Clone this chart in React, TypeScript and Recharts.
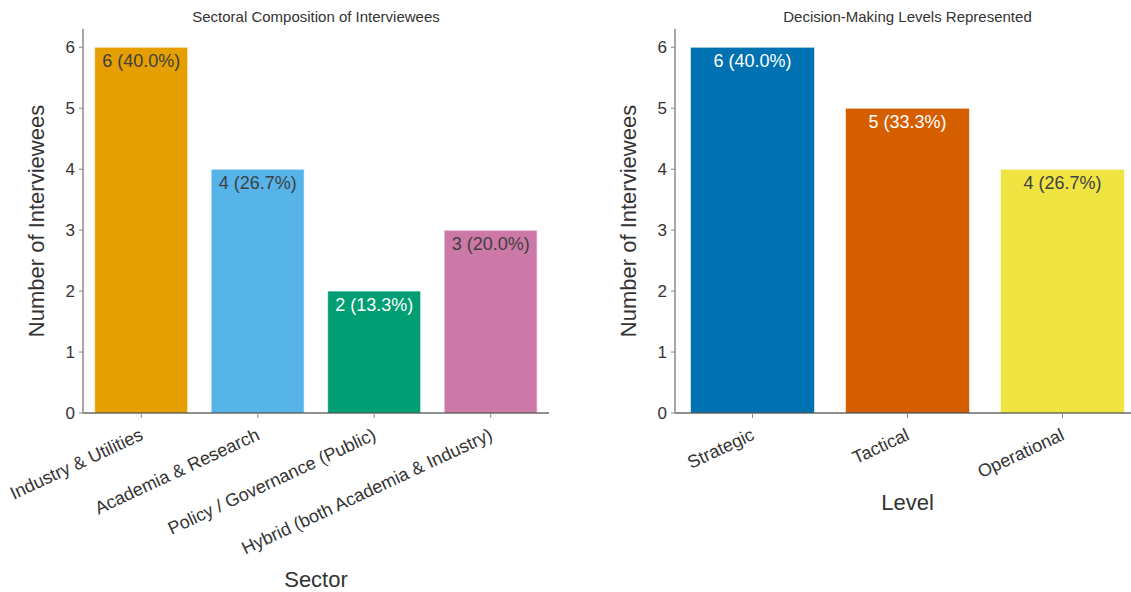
import React from "react";
import { BarChart, Bar, XAxis, YAxis, Cell, LabelList } from "recharts";

const sectors = [
  "Industry & Utilities",
  "Academia & Research",
  "Policy / Governance (Public)",
  "Hybrid (both Academia & Industry)",
];
const sectorCounts = [6, 4, 2, 3];
const sectorColors = ["#E69F00", "#56B4E9", "#009E73", "#CC79A7"];
const sectorTextColors = ["#404040", "#404040", "#ffffff", "#404040"];

const levels = ["Strategic", "Tactical", "Operational"];
const levelCounts = [6, 5, 4];
const levelColors = ["#0072B2", "#D55E00", "#F0E442"];
const levelTextColors = ["#ffffff", "#ffffff", "#404040"];

const yTicks = [0, 1, 2, 3, 4, 5, 6];

const FONT = '"Liberation Sans", Arial, sans-serif';
const TEXT = "#333333";

// category names are tilted and right-aligned under their tick
const RotatedTick = (props: any) => {
  const { x, y, payload } = props;
  const ax = x + 3;
  const ay = y + 19;
  return (
    <text
      x={ax}
      y={ay}
      transform={`rotate(-25, ${ax}, ${ay})`}
      textAnchor="end"
      fontSize={18}
      fontFamily={FONT}
      fill={TEXT}
    >
      {payload.value}
    </text>
  );
};

interface PanelProps {
  title: string;
  xLabel: string;
  categories: string[];
  counts: number[];
  colors: string[];
  textColors: string[];
  left: number;
  width: number;
  marginLeft: number;
  marginRight: number;
  xLabelOffset: number;
}

function Panel(p: PanelProps) {
  const total = p.counts.reduce((a, b) => a + b, 0);
  const data = p.categories.map((name, i) => ({ name, count: p.counts[i] }));
  const plotLeft = p.left + p.marginLeft + 60;
  const plotWidth = p.width - p.marginLeft - 60 - p.marginRight;

  const barLabel = (props: any) => {
    const { x, y, width, index, value } = props;
    const pct = ((value / total) * 100).toFixed(1);
    return (
      <text
        x={x + width / 2}
        y={y + 20}
        textAnchor="middle"
        fontSize={18}
        fontFamily={FONT}
        fill={p.textColors[index]}
      >
        {`${value} (${pct}%)`}
      </text>
    );
  };

  return (
    <>
      <div
        style={{
          position: "absolute",
          left: plotLeft,
          top: 8,
          width: plotWidth,
          textAlign: "center",
          fontFamily: FONT,
          fontSize: 15,
          color: TEXT,
        }}
      >
        {p.title}
      </div>
      <div style={{ position: "absolute", left: p.left, top: 0 }}>
        <BarChart
          width={p.width}
          height={592}
          data={data}
          margin={{ top: 29, right: p.marginRight, bottom: 0, left: p.marginLeft }}
          barCategoryGap="10%"
        >
          <XAxis
            dataKey="name"
            interval={0}
            height={179}
            tick={<RotatedTick />}
            tickSize={5}
            tickLine={{ stroke: "#888" }}
            axisLine={{ stroke: "#222", strokeWidth: 1.2 }}
            label={{
              value: p.xLabel,
              position: "insideBottom",
              offset: p.xLabelOffset,
              fontSize: 22,
              fontFamily: FONT,
              fill: TEXT,
            }}
          />
          <YAxis
            width={60}
            domain={[0, 6.3]}
            ticks={yTicks}
            allowDataOverflow
            tickSize={4}
            tickMargin={4}
            tick={{ fontSize: 17, fontFamily: FONT, fill: TEXT }}
            tickLine={{ stroke: "#888" }}
            axisLine={{ stroke: "#888", strokeWidth: 1.5 }}
            label={{
              value: "Number of Interviewees",
              angle: -90,
              position: "insideLeft",
              offset: 13,
              fontSize: 22,
              fontFamily: FONT,
              fill: TEXT,
              style: { textAnchor: "middle" },
            }}
          />
          <Bar
            dataKey="count"
            isAnimationActive={false}
            stroke="#ffffff"
            strokeOpacity={0.6}
            strokeWidth={1}
          >
            {data.map((d, i) => (
              <Cell key={d.name} fill={p.colors[i]} />
            ))}
            <LabelList dataKey="count" content={barLabel} />
          </Bar>
        </BarChart>
      </div>
    </>
  );
}

export default function App() {
  return (
    <div
      style={{
        position: "absolute",
        left: 0,
        top: 0,
        width: 1131,
        height: 592,
        overflow: "hidden",
        background: "#ffffff",
      }}
    >
      <Panel
        title="Sectoral Composition of Interviewees"
        xLabel="Sector"
        categories={sectors}
        counts={sectorCounts}
        colors={sectorColors}
        textColors={sectorTextColors}
        left={0}
        width={560}
        marginLeft={23}
        marginRight={11}
        xLabelOffset={5}
      />
      <Panel
        title="Decision-Making Levels Represented"
        xLabel="Level"
        categories={levels}
        counts={levelCounts}
        colors={levelColors}
        textColors={levelTextColors}
        left={580}
        width={580}
        marginLeft={35}
        marginRight={20}
        xLabelOffset={82}
      />
    </div>
  );
}
